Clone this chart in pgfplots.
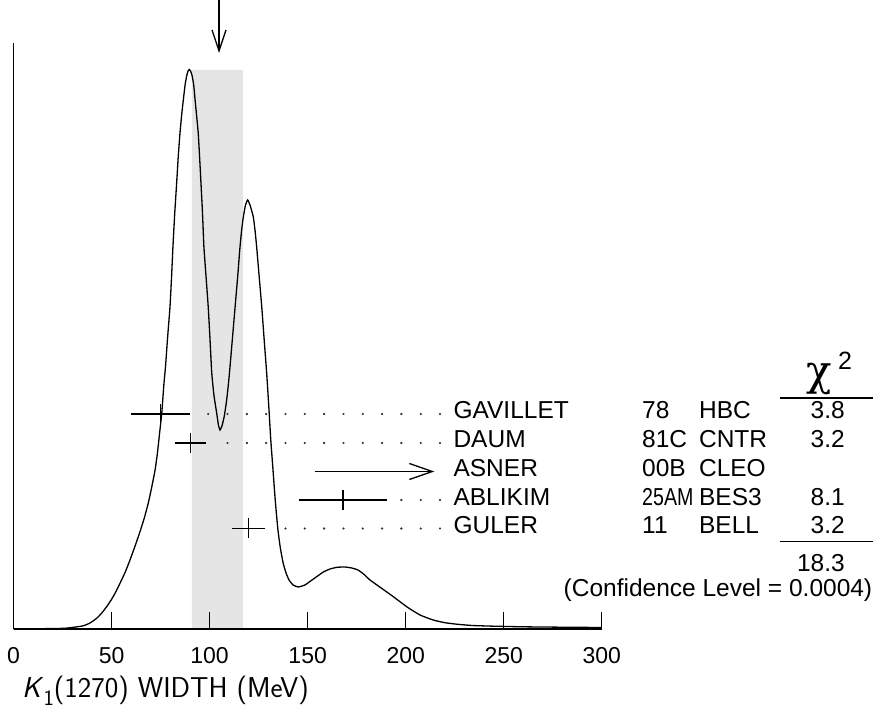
\documentclass[border=0pt]{standalone}
\usepackage{pgfplots}
\pgfplotsset{compat=1.18}
\usepackage{graphicx}
\usepackage{fontspec}
\setmainfont{Liberation Sans}
\newfontfamily\symfont{DejaVu Serif}
\usetikzlibrary{arrows.meta}
\newcommand{\tabfont}{\fontsize{24.5bp}{28bp}\selectfont}
\begin{document}
\begin{tikzpicture}
\path[use as bounding box] (0,0) rectangle (873bp,725bp);
\begin{axis}[
  at={(13.5bp,96bp)}, anchor=south west,
  scale only axis, width=588.3bp, height=586bp,
  xmin=0, xmax=300, ymin=0, ymax=586,
  axis x line=bottom, axis y line=left,
  x axis line style={-}, y axis line style={-},
  axis line style={line width=1.2bp, black},
  xtick={0,50,...,300}, ytick=\empty,
  tick align=inside, major tick length=16.5bp,
  tick style={line width=1.2bp, black},
  xticklabel style={font=\fontsize{23bp}{28bp}\selectfont, yshift=-15bp},
  /pgf/number format/assume math mode=true,
  clip=false, axis on top,
]
% shaded band (weighted average +- error)
\addplot[fill=black!10, draw=none] coordinates {(91,0) (91,559) (117,559) (117,0)} \closedcycle;
% ideogram curve
\addplot[black, line width=1.3bp, smooth, tension=0.3] coordinates {
(0,0.2) (10,0.2) (18,0.4) (24,0.6) (27.1,0.9) (31,1.8) (35.6,3.2) (39,6) (42.4,10.7) (45,16) (47.5,22.3)
(49.8,29) (52,36.5) (54.3,45.7) (57,57) (59.4,69) (62,83) (64.5,97.3) (66.7,111) (68.7,125.7) (70.5,142)
(72.2,159) (73.4,176) (74.3,192.3) (75.6,215.7) (76.7,245) (77.5,262) (78.6,292) (79.8,322) (80.6,352)
(81.3,382) (82.2,415) (83.2,446) (84.0,472) (84.9,496) (85.8,515) (86.6,529) (87.5,544) (88.3,553)
(89.0,558) (89.6,559.5) (90.3,558) (91.1,553) (91.9,544) (92.6,529) (93.4,513) (94.2,496) (94.9,472)
(95.6,446) (96.4,415) (97.1,382) (98.2,352) (99.3,322) (100.2,290) (101.1,256) (102.2,234) (103.6,216)
(104.5,204) (105.3,199) (106.3,203) (107.5,213) (108.7,229) (109.6,245) (110.4,262) (111.7,292) (113,322)
(114.3,352) (115.5,382) (116.4,400) (117.2,412) (118.3,424) (119.4,429) (120.6,424) (121.5,418) (122.3,412)
(123.2,398) (124,382) (125.3,352) (126.6,322) (127.8,290) (129.1,256) (130.2,222) (131.2,189) (132.3,160)
(133.5,128) (134.8,100) (136,82) (137.5,66) (139,56) (140.5,49) (142.6,44) (145.2,42) (148.6,44) (151.5,48)
(154.6,52.3) (158,57) (161.4,60) (165,61.7) (169,62) (172.5,61) (175.7,59) (178.8,54.5) (181.8,49)
(187.5,41) (193.7,32.3) (200.5,22.3) (207.3,14) (214,9) (220,6.3) (226,4.8) (234,3.5) (245,2.8) (260,2.2)
(280,1.8) (300,1.5)};
% measurements
\pgfplotsset{meas/.style={black, line width=1.3bp, mark=|, mark size=10bp,
  mark options={line width=1.3bp},
  error bars/.cd, x dir=both, x explicit, error mark=none,
  error bar style={line width=1.3bp}}}
\addplot[meas] coordinates {(75,215) +- (15,0)};
\addplot[meas] coordinates {(90.3,186) +- (7.9,0)};
\addplot[meas] coordinates {(168,129) +- (22.3,0)};
\addplot[meas] coordinates {(119.8,100.5) +- (8.5,0)};
\addplot[black, line width=1.3bp, -{Straight Barb[length=23bp, width=16bp, line width=1.3bp]}]
  coordinates {(153.7,157.5) (214.6,157.5)};
% dotted leaders
\addplot[only marks, mark=*, mark size=0.9bp, black!80] coordinates {
(99.3,215) (109.15,215) (119,215) (128.85,215) (138.7,215) (148.55,215) (158.4,215) (168.25,215) (178.1,215) (187.95,215) (197.8,215) (207.65,215) (217.5,215)
(109.15,186) (119,186) (128.85,186) (138.7,186) (148.55,186) (158.4,186) (168.25,186) (178.1,186) (187.95,186) (197.8,186) (207.65,186) (217.5,186)
(197.8,129) (207.65,129) (217.5,129)
(138.7,100.5) (148.55,100.5) (158.4,100.5) (168.25,100.5) (178.1,100.5) (187.95,100.5) (197.8,100.5) (207.65,100.5) (217.5,100.5)};
% average arrow
\addplot[black, line width=1.3bp, -{Straight Barb[length=21bp, width=14bp, line width=1.3bp]}]
  coordinates {(104.8,629) (104.8,576)};
% table
\begin{scope}[every node/.style={font=\tabfont, inner sep=0pt}]
\node[anchor=base west] at (axis cs:224.3,210.7) {GAVILLET};
\node[anchor=base west] at (axis cs:224.3,181.3) {DAUM};
\node[anchor=base west] at (axis cs:224.3,152.3) {ASNER};
\node[anchor=base west] at (axis cs:224.3,123.3) {ABLIKIM};
\node[anchor=base west] at (axis cs:224.3,95) {GULER};
\node[anchor=base west] at (axis cs:320.5,210.7) {78};
\node[anchor=base west] at (axis cs:320.5,181.3) {81C};
\node[anchor=base west] at (axis cs:320.5,152.3) {00B};
\node[anchor=base west] at (axis cs:320.5,123.3) {\scalebox{0.8}[1]{25AM}};
\node[anchor=base west] at (axis cs:320.5,95) {11};
\node[anchor=base west] at (axis cs:349.5,210.7) {HBC};
\node[anchor=base west] at (axis cs:349.5,181.3) {CNTR};
\node[anchor=base west] at (axis cs:349.5,152.3) {CLEO};
\node[anchor=base west] at (axis cs:349.5,123.3) {BES3};
\node[anchor=base west] at (axis cs:349.5,95) {BELL};
\node[anchor=base east] at (axis cs:424,210.7) {3.8};
\node[anchor=base east] at (axis cs:424,181.3) {3.2};
\node[anchor=base east] at (axis cs:424,123.3) {8.1};
\node[anchor=base east] at (axis cs:424,95) {3.2};
\node[anchor=base east] at (axis cs:424,57.3) {18.3};
\node[anchor=base east] at (axis cs:438,32) {(Confidence Level = 0.0004)};
\node[anchor=base west, font=\symfont\fontsize{42bp}{46bp}\selectfont] at (axis cs:404.5,243) {χ};
\node[anchor=base west, font=\fontsize{25bp}{28bp}\selectfont] at (axis cs:420.4,259) {2};
\end{scope}
\draw[line width=1.2bp] (axis cs:390.9,231) -- (axis cs:438.3,231);
\draw[line width=1.2bp] (axis cs:390.9,87.3) -- (axis cs:438.3,87.3);
\node[anchor=base west, inner sep=0pt, font=\sffamily\fontsize{28.7bp}{32bp}\selectfont] at (axis cs:4.3,-68)
  {\textsl{K}\raisebox{-0.28em}{\fontsize{22bp}{24bp}\selectfont 1}(1270) WIDTH (MeV)};
\end{axis}
\end{tikzpicture}
\end{document}
